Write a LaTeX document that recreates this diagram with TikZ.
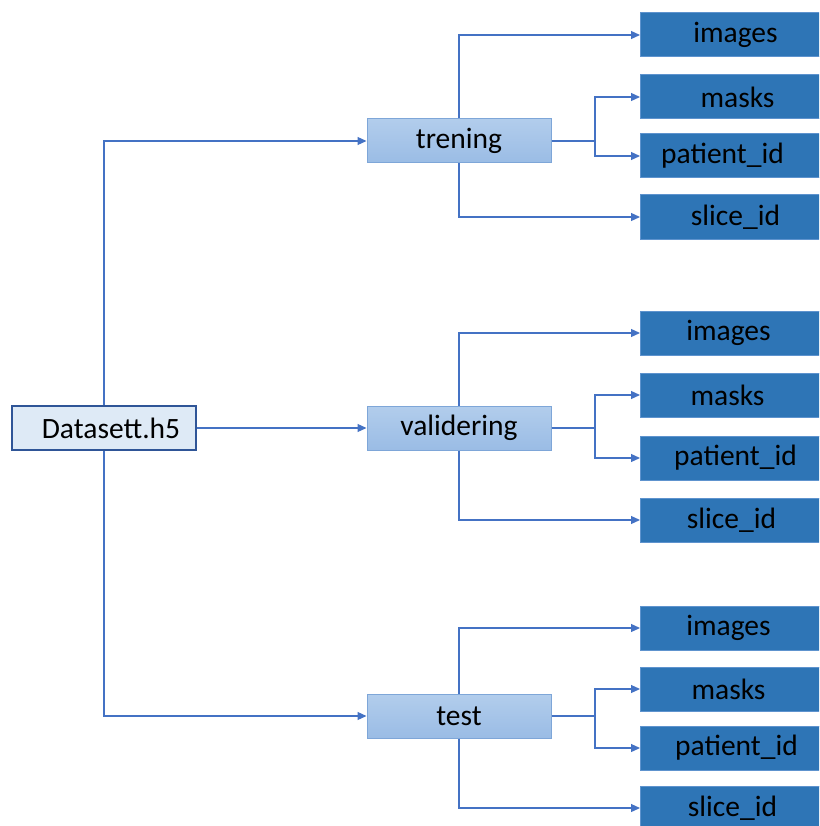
\documentclass[tikz,border=0pt]{standalone}
\usepackage{fontspec}
\setmainfont{Carlito}
\usetikzlibrary{arrows.meta}
\definecolor{rootfill}{HTML}{DEEAF6}
\definecolor{rootline}{HTML}{2F5597}
\definecolor{midtop}{HTML}{B2CDEC}
\definecolor{midbot}{HTML}{9ABCE5}
\definecolor{midline}{HTML}{7EA6D8}
\definecolor{leaffill}{HTML}{2E75B6}
\definecolor{leafline}{HTML}{5E93CE}
\definecolor{wire}{HTML}{4472C4}
\tikzset{
  every node/.style={font=\fontsize{29.5}{34}\selectfont, text=black},
  rootbox/.style={draw=rootline, line width=2, fill=rootfill, minimum width=184, minimum height=44, inner sep=0},
  midbox/.style={draw=midline, line width=1, top color=midtop, bottom color=midbot, minimum width=184, minimum height=44, inner sep=0},
  leafbox/.style={draw=leafline, line width=1, fill=leaffill, minimum width=200, minimum height=44, inner sep=0, anchor=west},
  lbl/.style={inner sep=0},
  conn/.style={draw=wire, line width=1.2, -{Triangle[length=9,width=8]}},
  plain/.style={draw=wire, line width=1.2}
}
\begin{document}
\begin{tikzpicture}[x=1pt,y=-1pt]
\useasboundingbox (0,0) rectangle (819,826);
\clip (0,0) rectangle (819,826);

% root file
\node[rootbox, label={[lbl,xshift=7]center:Datasett.h5}] (ds) at (104,428) {};

% groups
\node[midbox] (tr) at (459,141) {trening};
\node[midbox] (va) at (459,428) {validering};
\node[midbox] (te) at (459,716) {test};

% datasets in trening
\node[leafbox, label={[lbl,xshift=-5]center:images}]      (t1) at (640,35)  {};
\node[leafbox, label={[lbl,xshift=-3]center:masks}]       (t2) at (640,97)  {};
\node[leafbox, label={[lbl,xshift=-18]center:patient\_id}] (t3) at (640,156) {};
\node[leafbox, label={[lbl,xshift=-5]center:slice\_id}]  (t4) at (640,217) {};

% datasets in validering
\node[leafbox, label={[lbl,xshift=-12]center:images}]     (v1) at (640,333) {};
\node[leafbox, label={[lbl,xshift=-13]center:masks}]      (v2) at (640,395) {};
\node[leafbox, label={[lbl,xshift=-5]center:patient\_id}] (v3) at (640,458) {};
\node[leafbox, label={[lbl,xshift=-9]center:slice\_id}]   (v4) at (640,520) {};

% datasets in test
\node[leafbox, label={[lbl,xshift=-12]center:images}]     (e1) at (640,628) {};
\node[leafbox, label={[lbl,xshift=-12]center:masks}]      (e2) at (640,689) {};
\node[leafbox, label={[lbl,xshift=-4]center:patient\_id}] (e3) at (640,748) {};
\node[leafbox, label={[lbl,xshift=-8]center:slice\_id}]   (e4) at (640,808) {};

% fork points on the right of each group
\coordinate (trf) at (595,141);
\coordinate (vaf) at (595,428);
\coordinate (tef) at (595,716);

% root to groups
\draw[conn] (ds.north) |- (tr.west);
\draw[conn] (ds.east) -- (va.west);
\draw[conn] (ds.south) |- (te.west);

% trening branches
\draw[conn] (tr.north) |- (t1.west);
\draw[conn] (tr.south) |- (t4.west);
\draw[plain] (tr.east) -- (trf);
\draw[conn] (trf) |- (t2.west);
\draw[conn] (trf) |- (t3.west);

% validering branches
\draw[conn] (va.north) |- (v1.west);
\draw[conn] (va.south) |- (v4.west);
\draw[plain] (va.east) -- (vaf);
\draw[conn] (vaf) |- (v2.west);
\draw[conn] (vaf) |- (v3.west);

% test branches
\draw[conn] (te.north) |- (e1.west);
\draw[conn] (te.south) |- (e4.west);
\draw[plain] (te.east) -- (tef);
\draw[conn] (tef) |- (e2.west);
\draw[conn] (tef) |- (e3.west);
\end{tikzpicture}
\end{document}
